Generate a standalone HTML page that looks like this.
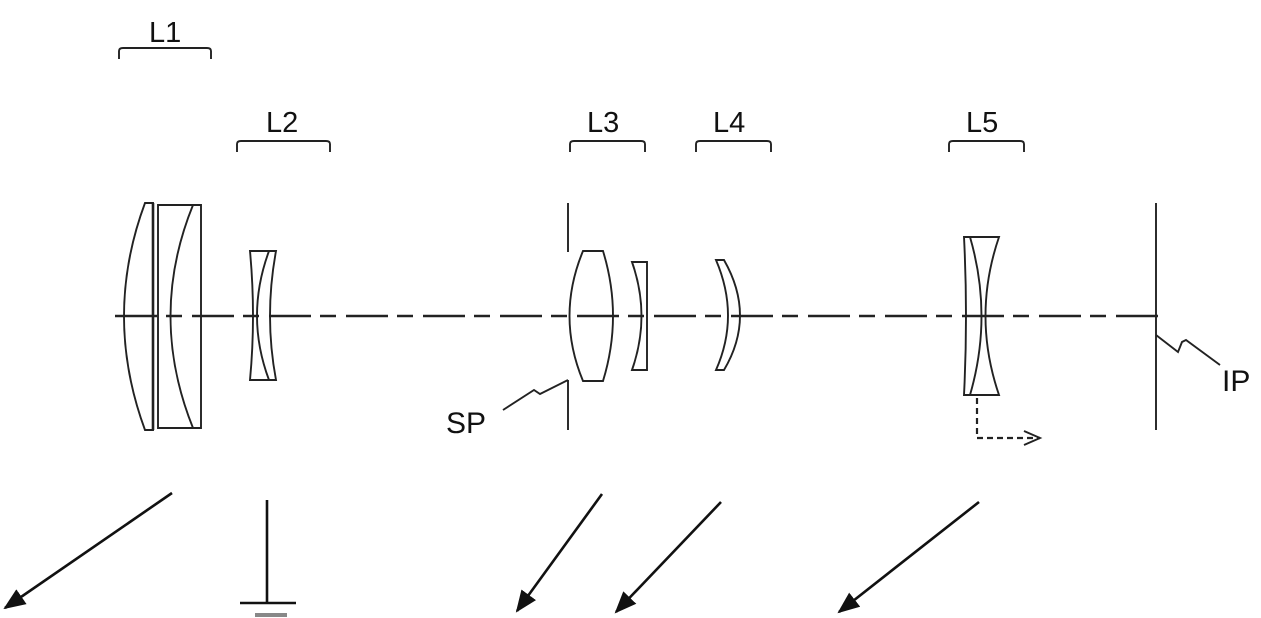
<!DOCTYPE html>
<html><head><meta charset="utf-8"><style>
html,body{margin:0;padding:0;background:#fff;}
svg{display:block;}
text{font-family:"Liberation Sans",sans-serif;fill:#111;}
</style></head><body>
<svg width="1261" height="618" viewBox="0 0 1261 618" xmlns="http://www.w3.org/2000/svg">
<defs>
<marker id="ah" markerWidth="22" markerHeight="18" refX="20" refY="9" orient="auto" markerUnits="userSpaceOnUse">
<path d="M0,0 L22,9 L0,18 z" fill="#111"/>
</marker>
</defs>
<g stroke="#222" fill="none" stroke-width="1.9">
<line x1="115" y1="316" x2="1160" y2="316" stroke-width="2.6" stroke-dasharray="42 9 16 10"/>
<path d="M119,59 L119,51 Q119,48 123,48 L207,48 Q211,48 211,51 L211,59"/>
<path d="M237,152 L237,144 Q237,141 241,141 L326,141 Q330,141 330,144 L330,152"/>
<path d="M570,152 L570,144 Q570,141 574,141 L641,141 Q645,141 645,144 L645,152"/>
<path d="M696,152 L696,144 Q696,141 700,141 L767,141 Q771,141 771,144 L771,152"/>
<path d="M949,152 L949,144 Q949,141 953,141 L1020,141 Q1024,141 1024,144 L1024,152"/>
<path d="M145,203 L153,203 L153,430 L145,430 Q103,316 145,203 Z"/>
<line x1="153" y1="203" x2="153" y2="430" stroke-width="2.6"/>
<path d="M158,205 L201,205 L201,428 L158,428 Z"/>
<path d="M193,205 Q148,316 193,428"/>
<path d="M250,251 L276,251 Q264,316 276,380 L250,380 Q256,316 250,251 Z"/>
<path d="M269,251 Q245,316 269,380"/>
<line x1="568" y1="203" x2="568" y2="252"/>
<line x1="568" y1="380" x2="568" y2="430"/>
<path d="M583,251 L603,251 Q623,316 603,381 L583,381 Q556,316 583,251 Z"/>
<path d="M632,262 L647,262 L647,370 L632,370 Q651,316 632,262 Z"/>
<path d="M716,260 L724,260 Q756,316 724,370 L716,370 Q740,316 716,260 Z"/>
<path d="M964,237 L999,237 Q972,316 999,395 L964,395 Q968,316 964,237 Z"/>
<path d="M970,237 Q993,316 970,395"/>
<path d="M977,398 L977,438 L1040,438" stroke-dasharray="6 4" stroke-width="2.2"/>
<path d="M1024,431 L1040,438 L1024,445"/>
<line x1="1156" y1="203" x2="1156" y2="430"/>
<path d="M1156,335 L1178,352 L1182,342 L1186,340 L1220,365"/>
<path d="M503,410 L534,390 L540,394 L568,380"/>
<g stroke="#111" stroke-width="2.6">
<line x1="172" y1="493" x2="5" y2="608" marker-end="url(#ah)"/>
<line x1="602" y1="494" x2="517" y2="611" marker-end="url(#ah)"/>
<line x1="721" y1="502" x2="616" y2="612" marker-end="url(#ah)"/>
<line x1="979" y1="502" x2="839" y2="612" marker-end="url(#ah)"/>
<line x1="267" y1="500" x2="267" y2="603"/>
<line x1="240" y1="603" x2="296" y2="603"/>
</g>
<line x1="255" y1="615" x2="287" y2="615" stroke="#888" stroke-width="4"/>
</g>
<text x="149" y="42" font-size="29">L1</text>
<text x="266" y="132" font-size="29">L2</text>
<text x="587" y="132" font-size="29">L3</text>
<text x="713" y="132" font-size="29">L4</text>
<text x="966" y="132" font-size="29">L5</text>
<text x="446" y="433" font-size="30">SP</text>
<text x="1222" y="391" font-size="30">IP</text>
</svg>
</body></html>
